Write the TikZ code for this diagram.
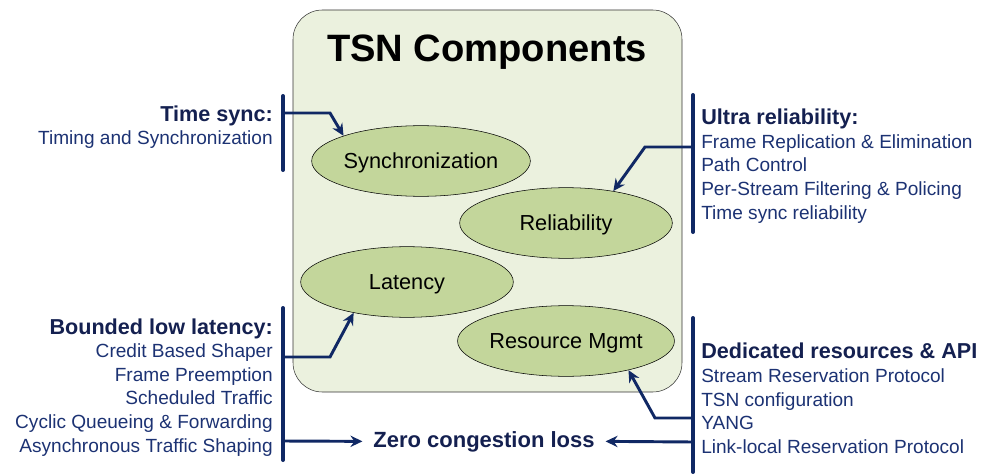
\documentclass[tikz,border=0pt]{standalone}
\usepackage{fontspec}
\setmainfont{Liberation Sans}
\usepackage{xcolor}
\usetikzlibrary{shapes.geometric,arrows.meta}
\definecolor{boxfill}{RGB}{235,241,222}
\definecolor{ovalfill}{RGB}{195,214,155}
\definecolor{barblue}{RGB}{16,40,100}
\definecolor{headblue}{RGB}{20,32,80}
\definecolor{itemblue}{RGB}{28,50,115}

\begin{document}
\begin{tikzpicture}
  [x=0.75pt,y=-0.75pt,
   every node/.style={inner sep=0pt},
   frame/.style={draw=black!80,fill=boxfill,rounded corners=22pt,
     minimum width=291.75pt,minimum height=286.5pt},
   comp/.style={ellipse,draw=black,fill=ovalfill,minimum width=159.5pt,
     minimum height=53pt,text depth=0pt,font=\fontsize{16.3}{19}\selectfont},
   head/.style={font=\bfseries\fontsize{16.2}{19}\selectfont,text=headblue},
   item/.style={font=\fontsize{14.3}{17}\selectfont,text=itemblue},
   bar/.style={draw=barblue,line width=3pt,line cap=round},
   link/.style={draw=barblue,line width=2.2pt,
     -{Stealth[length=9pt,width=8.5pt,inset=3pt]}}]
  \useasboundingbox (0,0) rectangle (984,474);

  % central box
  \node[frame] (frame) at (487.5,201) {};
  \node[anchor=base,font=\bfseries\fontsize{28.6}{32}\selectfont] (title) at (487,62) {TSN Components};

  \node[comp] (sync) at (421,161) {Synchronization};
  \node[comp] (rel) at (566,223) {Reliability};
  \node[comp] (lat) at (407,282) {Latency};
  \node[comp] (res) at (566,341) {Resource Mgmt};

  % side texts
  \node[head,anchor=base east] (tsh) at (273,121.7) {Time sync:};
  \node[item,anchor=base east] (ts1) at (273,145) {Timing and Synchronization};

  \node[head,anchor=base west] (urh) at (701,125) {Ultra reliability:};
  \foreach \txt [count=\i] in {Frame Replication \& Elimination,Path Control,
      Per-Stream Filtering \& Policing,Time sync reliability}
    \node[item,anchor=base west] (ur\i) at (701,124.6+23.6*\i) {\txt};

  \node[head,anchor=base east] (blh) at (273,334) {Bounded low latency:};
  \foreach \txt [count=\i] in {Credit Based Shaper,Frame Preemption,Scheduled Traffic,
      Cyclic Queueing \& Forwarding,Asynchronous Traffic Shaping}
    \node[item,anchor=base east] (bl\i) at (273,334+23.6*\i) {\txt};

  \node[head,anchor=base west] (drh) at (701,358) {Dedicated resources \& API};
  \foreach \txt [count=\i] in {Stream Reservation Protocol,TSN configuration,YANG,
      Link-local Reservation Protocol}
    \node[item,anchor=base west] (dr\i) at (701,359+23.6*\i) {\txt};

  \node[head,anchor=base,inner xsep=8pt,font=\bfseries\fontsize{16.5}{19}\selectfont] (zero) at (484,447) {Zero congestion loss};

  % bars
  \coordinate (tsT) at (283,96);  \coordinate (tsB) at (283,170);
  \coordinate (urT) at (693,95);  \coordinate (urB) at (693,232);
  \coordinate (blT) at (283,308); \coordinate (blB) at (283,460);
  \coordinate (drT) at (693,318); \coordinate (drB) at (693,472);
  \foreach \from/\to in {tsT/tsB,urT/urB,blT/blB,drT/drB}
    \draw[bar] (\from) -- (\to);

  % arrows
  \coordinate (tsA) at (283,113);
  \coordinate (urA) at (693,147);
  \coordinate (blA) at (283,357);
  \coordinate (blZ) at (283,441);
  \coordinate (drA) at (693,418);
  \coordinate (drZ) at (693,442);
  \draw[link] (tsA) -- ++(47,0) -- (sync.162);
  \draw[link] (urA) -- ++(-48,0) -- (rel.34);
  \draw[link] (blA) -- ++(47,0) -- (lat.210);
  \draw[link] (drA) -- ++(-38,0) -- (res.-25);
  \foreach \from/\to in {blZ/zero.west,drZ/zero.east}
    \draw[link] (\from) -- (\to);

\end{tikzpicture}
\end{document}
